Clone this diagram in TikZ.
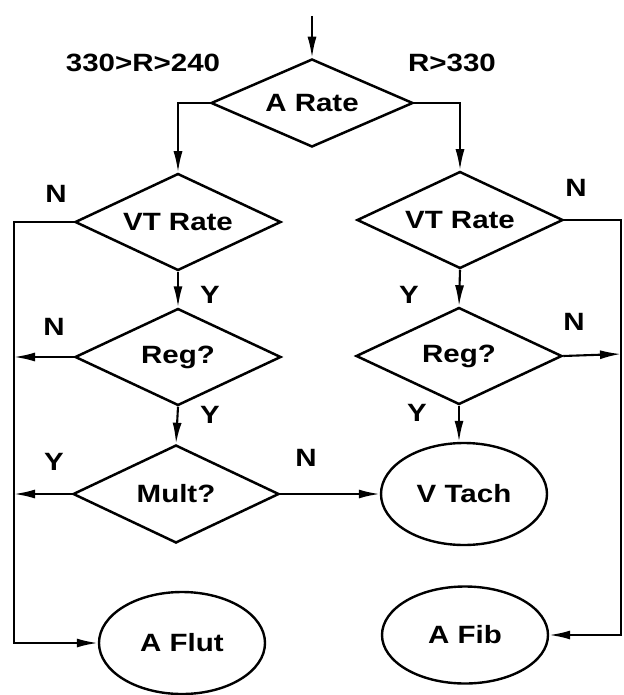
\documentclass[tikz,border=0pt]{standalone}
\usepackage{fontspec}
\setmainfont{Liberation Sans}[FakeStretch=1.18]
\usetikzlibrary{shapes.geometric,arrows.meta}
\begin{document}
\begin{tikzpicture}[x=1pt,y=-1pt,
  every node/.style={font=\fontsize{25}{30}\selectfont\bfseries},
  dec/.style={draw,diamond,line width=2.5pt,inner sep=0pt,shape aspect=2.2,minimum width=206pt,minimum height=97pt},
  term/.style={draw,ellipse,line width=2.4pt,inner sep=0pt,minimum width=166pt,minimum height=102pt},
  lbl/.style={inner sep=0pt},
  conn/.style={line width=2.1pt},
  arr/.style={conn,-{Latex[length=21pt,width=9pt]}},
  line join=miter]
\useasboundingbox (0,0) rectangle (623,695);
% nodes
\node[dec,minimum height=88pt,minimum width=202pt] (arate) at (312,103) {A Rate};
\node[dec] (vtl) at (178,222) {VT Rate};
\node[dec] (vtr) at (460,220) {VT Rate};
\node[dec] (regl) at (178,357) {Reg?};
\node[dec] (regr) at (459,356) {Reg?};
\node[dec,minimum height=98pt] (mult) at (176,494) {Mult?};
\node[term] (vtach) at (464,494) {V Tach};
\node[term] (aflut) at (182,643) {A Flut};
\node[term,minimum height=97pt] (afib) at (465,635) {A Fib};
% labels
\node[lbl] (l1) at (143,63) {330>R>240};
\node[lbl] (l2) at (452,63) {R>330};
\node[lbl] (n1) at (56,194) {N};
\node[lbl] (n2) at (576,188) {N};
\node[lbl] (y1) at (210,295) {Y};
\node[lbl] (y2) at (409,295) {Y};
\node[lbl] (n3) at (54,327) {N};
\node[lbl] (n4) at (574,322) {N};
\node[lbl] (y3) at (210,415) {Y};
\node[lbl] (y4) at (417,413) {Y};
\node[lbl] (y5) at (54,462) {Y};
\node[lbl] (n5) at (306,458) {N};
% coordinates
\coordinate (start) at (312,16);
\coordinate (ltop) at (14,222);
\coordinate (lbot) at (14,643);
\coordinate (lreg) at (14,357);
\coordinate (lmult) at (14,494);
\coordinate (rtop) at (621,220);
\coordinate (rbot) at (621,635);
\coordinate (rreg) at (621,354);
% connectors
\draw[arr] (start) -- (arate.north);
\draw[arr] (arate.west) -| (vtl.north);
\draw[arr] (arate.east) -| (vtr.north);
\draw[arr] (vtl.west) -- (ltop) -- (lbot) -- (aflut.west);
\draw[arr] (vtl.south) -- (regl.north);
\draw[arr] (regl.west) -- (lreg);
\draw[arr] (regl.south) -- (mult.north);
\draw[arr] (mult.west) -- (lmult);
\draw[arr] (mult.east) -- (vtach.west);
\draw[arr] (vtr.east) -- (rtop) -- (rbot) -- (afib.east);
\draw[arr] (vtr.south) -- (regr.north);
\draw[arr] (regr.east) -- (rreg);
\draw[arr] (regr.south) -- (regr.south |- vtach.north);
\end{tikzpicture}
\end{document}
